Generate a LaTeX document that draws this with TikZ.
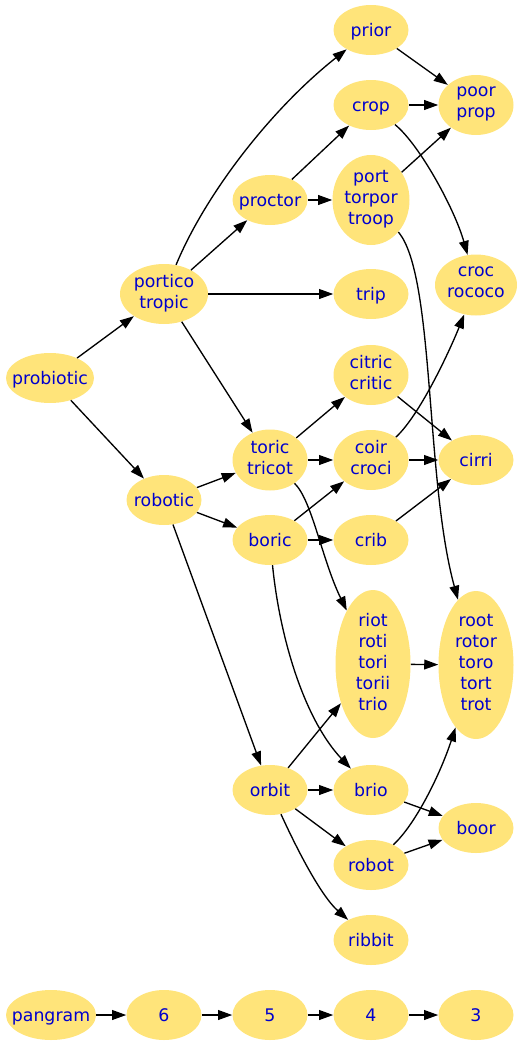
\documentclass[tikz,border=0pt]{standalone}
\usepackage{fontspec}
\setmainfont{DejaVu Sans}
\usetikzlibrary{arrows.meta,shapes.geometric}
\definecolor{nodefill}{RGB}{255,228,122}
\definecolor{nodetext}{RGB}{0,0,205}
\newcommand\nodestrut{\rule[-3.7pt]{0pt}{17.7pt}}
\begin{document}
\begin{tikzpicture}[x=0.75pt,y=-0.75pt,
  wnode/.style={ellipse,fill=nodefill,text=nodetext,inner xsep=-12pt,inner ysep=-2pt,align=center,
    font=\fontsize{13}{15.75}\selectfont,minimum width=56.25pt,minimum height=37.5pt,
    execute at begin node=\nodestrut,execute at end node=\nodestrut},
  edge/.style={draw=black,line width=1pt,-{Triangle[length=10.5pt,width=7.3pt]}}]
\useasboundingbox (0,0) rectangle (525,1046);
% nodes
\node[wnode] (prior) at (371,30) {prior};
\node[wnode,minimum height=45pt] (poorprop) at (476,105) {poor\\prop};
\node[wnode] (crop) at (371,105) {crop};
\node[wnode,minimum width=57.75pt,minimum height=67.5pt] (port) at (371,200) {port\\torpor\\troop};
\node[wnode] (proctor) at (270,200) {proctor};
\node[wnode,minimum width=66pt,minimum height=45pt] (portico) at (164,294) {portico\\tropic};
\node[wnode] (trip) at (371,294) {trip};
\node[wnode,minimum width=61.5pt,minimum height=45.75pt] (croc) at (476,285) {croc\\rococo};
\node[wnode,minimum width=66pt] (probiotic) at (50,378) {probiotic};
\node[wnode,minimum height=45pt] (citric) at (371,375) {citric\\critic};
\node[wnode,minimum height=45.75pt] (toric) at (270,460) {toric\\tricot};
\node[wnode,minimum height=45pt] (coir) at (371,460) {coir\\croci};
\node[wnode] (cirri) at (476,460) {cirri};
\node[wnode] (robotic) at (164,500) {robotic};
\node[wnode] (boric) at (270,540) {boric};
\node[wnode] (crib) at (371,540) {crib};
\node[wnode,minimum height=111pt] (riot) at (373,664) {riot\\roti\\tori\\torii\\trio};
\node[wnode,minimum height=111pt] (root) at (476,665) {root\\rotor\\toro\\tort\\trot};
\node[wnode] (orbit) at (270,790) {orbit};
\node[wnode] (brio) at (371,790) {brio};
\node[wnode] (boor) at (476,828) {boor};
\node[wnode] (robot) at (371,865) {robot};
\node[wnode] (ribbit) at (371,940) {ribbit};
\node[wnode,minimum width=67.5pt] (pangram) at (51,1015) {pangram};
\node[wnode] (n6) at (164,1015) {6};
\node[wnode] (n5) at (270,1015) {5};
\node[wnode] (n4) at (371,1015) {4};
\node[wnode] (n3) at (476,1015) {3};
% straight edges
\draw[edge] (probiotic) -- (portico);
\draw[edge] (probiotic) -- (robotic);
\draw[edge] (portico) -- (proctor);
\draw[edge] (portico) -- (trip);
\draw[edge] (portico) -- (toric);
\draw[edge] (proctor) -- (crop);
\draw[edge] (proctor) -- (port);
\draw[edge] (prior) -- (poorprop);
\draw[edge] (crop) -- (poorprop);
\draw[edge] (port) -- (poorprop);
\draw[edge] (citric) -- (cirri);
\draw[edge] (toric) -- (citric);
\draw[edge] (toric) -- (coir);
\draw[edge] (coir) -- (cirri);
\draw[edge] (robotic) -- (toric);
\draw[edge] (robotic) -- (boric);
\draw[edge] (robotic) -- (orbit);
\draw[edge] (boric) -- (coir);
\draw[edge] (boric) -- (crib);
\draw[edge] (crib) -- (cirri);
\draw[edge] (riot) -- (root);
\draw[edge] (orbit) -- (riot);
\draw[edge] (orbit) -- (brio);
\draw[edge] (orbit) -- (robot);
\draw[edge] (brio) -- (boor);
\draw[edge] (robot) -- (boor);
\draw[edge] (pangram) -- (n6);
\draw[edge] (n6) -- (n5);
\draw[edge] (n5) -- (n4);
\draw[edge] (n4) -- (n3);
% curved edges
\draw[edge] (portico) .. controls (205,195) and (270,110) .. (prior);
\draw[edge] (crop) .. controls (420,145) and (455,210) .. (croc);
\draw[edge] (port) .. controls (435,275) and (425,480) .. (root);
\draw[edge] (coir) .. controls (420,415) and (450,350) .. (croc);
\draw[edge] (toric) .. controls (312,500) and (322,560) .. (riot);
\draw[edge] (boric) .. controls (280,640) and (305,720) .. (brio);
\draw[edge] (orbit) .. controls (295,845) and (320,895) .. (ribbit);
\draw[edge] (robot) .. controls (415,825) and (440,775) .. (root);
\end{tikzpicture}
\end{document}
